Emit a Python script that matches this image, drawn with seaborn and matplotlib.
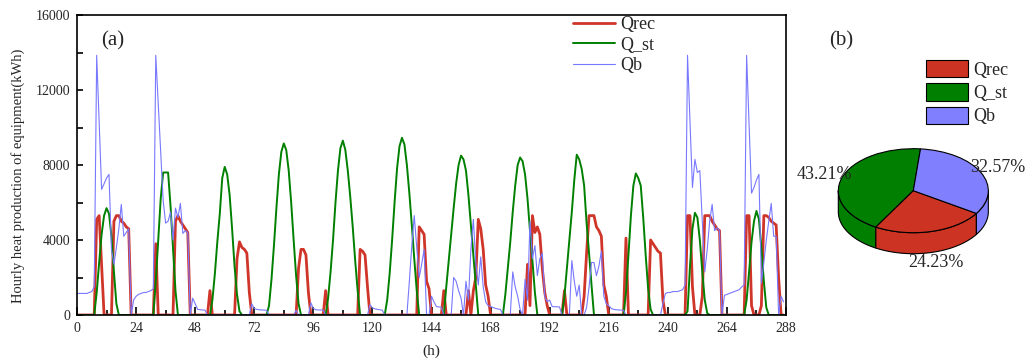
import numpy as np
import pandas as pd
import matplotlib
matplotlib.use("Agg")
import matplotlib.pyplot as plt
from matplotlib.patches import Polygon
from matplotlib.ticker import MultipleLocator
import seaborn as sns

# Hourly heat output of each unit over 12 days (kWh), one list of 24 hours per day
qrec_by_day = [
    [0, 0, 0, 0, 0, 0, 0, 0, 5100, 5300, 2600, 0, 0, 0, 0, 5000, 5300, 5300, 5000, 4900, 4700, 4600, 0, 0],
    [0, 0, 0, 0, 0, 0, 0, 0, 3800, 0, 0, 0, 0, 0, 0, 0, 5000, 5300, 5000, 4800, 4600, 4400, 0, 0],
    [0, 0, 0, 0, 0, 0, 1300, 0, 0, 0, 0, 0, 0, 0, 0, 0, 0, 3000, 3900, 3600, 3500, 3300, 1200, 0],
    [0, 0, 0, 0, 0, 0, 0, 0, 0, 0, 0, 0, 0, 0, 0, 0, 0, 0, 2500, 3500, 3500, 3200, 1200, 0],
    [0, 0, 0, 0, 0, 1300, 0, 0, 0, 0, 0, 0, 0, 0, 0, 0, 0, 0, 0, 3500, 3400, 3200, 1500, 0],
    [0, 0, 0, 0, 0, 0, 0, 0, 0, 0, 0, 0, 0, 0, 0, 0, 0, 0, 0, 4700, 4500, 4300, 1800, 1400],
    [0, 0, 0, 0, 0, 1300, 0, 0, 0, 0, 0, 0, 0, 0, 0, 1300, 0, 1300, 2000, 5100, 4600, 3500, 1600, 1000],
    [0, 0, 0, 0, 0, 0, 0, 0, 0, 0, 0, 0, 0, 0, 0, 2700, 500, 5300, 4400, 4700, 4300, 2500, 1200, 500],
    [0, 0, 0, 0, 0, 0, 1300, 0, 0, 0, 0, 0, 0, 0, 1000, 3300, 5300, 5300, 5300, 4700, 4500, 4200, 1600, 1000],
    [0, 0, 0, 0, 0, 0, 0, 4100, 0, 0, 0, 0, 0, 0, 0, 0, 0, 4000, 3800, 3600, 3400, 3300, 800, 0],
    [0, 0, 0, 0, 0, 0, 0, 0, 5300, 5300, 1500, 0, 0, 0, 1000, 5300, 5300, 5300, 5000, 4800, 4600, 4500, 0, 0],
    [0, 0, 0, 0, 0, 0, 0, 0, 5300, 5300, 500, 0, 0, 0, 500, 5300, 5300, 5200, 5000, 4900, 4800, 2000, 0, 0],
]

qst_by_day = [
    [0, 0, 0, 0, 0, 0, 0, 0, 1200, 2800, 4300, 5300, 5700, 5400, 4200, 2300, 600, 0, 0, 0, 0, 0, 0, 0],
    [0, 0, 0, 0, 0, 0, 0, 0, 1800, 4000, 6200, 7600, 7600, 7600, 5800, 3500, 1300, 0, 0, 0, 0, 0, 0, 0],
    [0, 0, 0, 0, 0, 0, 0, 800, 2200, 3900, 5400, 7300, 7900, 7500, 6400, 4600, 2600, 1100, 200, 0, 0, 0, 0, 0],
    [0, 0, 0, 0, 0, 0, 500, 1900, 3700, 5700, 7500, 8700, 9150, 8800, 7700, 6000, 4000, 2100, 600, 0, 0, 0, 0, 0],
    [0, 0, 0, 0, 0, 0, 900, 2300, 4000, 6000, 7700, 8900, 9300, 8800, 7700, 6300, 4700, 2900, 1300, 0, 0, 0, 0, 0],
    [0, 0, 0, 0, 0, 0, 800, 2200, 4000, 6000, 7800, 9000, 9450, 9100, 8000, 6500, 4800, 3000, 1300, 0, 0, 0, 0, 0],
    [0, 0, 0, 0, 0, 0, 1500, 2900, 4300, 5700, 7000, 8000, 8500, 8300, 7700, 6400, 4800, 3200, 1600, 0, 0, 0, 0, 0],
    [0, 0, 0, 0, 0, 0, 1100, 2500, 3900, 5500, 6900, 8000, 8400, 8200, 7500, 6200, 4500, 2900, 1200, 0, 0, 0, 0, 0],
    [0, 0, 0, 0, 0, 0, 1000, 2500, 4000, 5500, 7200, 8550, 8300, 7800, 6900, 4900, 3300, 1600, 0, 0, 0, 0, 0, 0],
    [0, 0, 0, 0, 0, 0, 0, 1200, 3200, 5300, 6900, 7550, 7300, 6900, 5200, 3200, 1400, 300, 0, 0, 0, 0, 0, 0],
    [0, 0, 0, 0, 0, 0, 0, 0, 200, 2600, 4600, 5450, 5200, 4000, 2300, 800, 100, 0, 0, 0, 0, 0, 0, 0],
    [0, 0, 0, 0, 0, 0, 0, 0, 800, 2300, 3900, 5000, 5550, 5100, 3600, 1800, 400, 0, 0, 0, 0, 0, 0, 0],
]

qb_by_day = [
    [1150, 1150, 1150, 1150, 1150, 1200, 1250, 1500, 13850, 10300, 6700, 7000, 7300, 7500, 3500, 2700, 3600, 4600, 5900, 4200, 4400, 4600, 0, 800],
    [1000, 1100, 1150, 1200, 1200, 1250, 1300, 1400, 13850, 11300, 8700, 6100, 4900, 5000, 5500, 4000, 5700, 5200, 5950, 4350, 4500, 4400, 0, 900],
    [600, 300, 280, 270, 260, 0, 0, 0, 0, 0, 0, 0, 0, 0, 0, 0, 0, 0, 0, 0, 0, 0, 0, 600],
    [350, 300, 280, 270, 260, 250, 0, 0, 0, 0, 0, 0, 0, 0, 0, 0, 0, 250, 0, 0, 0, 0, 0, 650],
    [350, 280, 270, 270, 260, 0, 0, 0, 0, 0, 0, 0, 0, 0, 0, 0, 0, 0, 0, 0, 0, 0, 0, 550],
    [380, 330, 300, 280, 260, 0, 0, 0, 0, 0, 0, 0, 0, 0, 0, 1800, 3700, 5300, 3600, 2000, 2700, 3500, 0, 0],
    [1000, 700, 450, 430, 420, 0, 0, 0, 0, 2000, 1800, 1300, 900, 0, 1800, 800, 3500, 5100, 2800, 1600, 3100, 1500, 700, 500],
    [450, 400, 350, 320, 300, 0, 0, 0, 0, 2300, 1500, 1000, 300, 0, 1900, 800, 5000, 3000, 3700, 2100, 3000, 3300, 1000, 700],
    [800, 450, 440, 440, 430, 0, 0, 0, 0, 2900, 1800, 1000, 1600, 0, 0, 400, 1500, 2800, 2800, 2100, 2600, 3400, 1000, 600],
    [500, 350, 300, 280, 270, 260, 250, 0, 0, 0, 0, 0, 0, 0, 0, 0, 0, 0, 0, 0, 0, 0, 600, 1150],
    [1200, 1200, 1250, 1250, 1250, 1300, 1350, 1600, 13850, 10300, 6800, 8300, 7600, 7700, 5000, 2300, 3500, 5000, 5900, 4500, 4650, 4500, 0, 1050],
    [1100, 1150, 1200, 1250, 1300, 1350, 1500, 1600, 13850, 10200, 6500, 6800, 7200, 7500, 1700, 2800, 4000, 5000, 5950, 4200, 4200, 0, 1000, 700],
]

# Share of total heat supplied by each unit (%), in counter-clockwise pie order
pie_names = ["Q_st", "Qrec", "Qb"]
pie_shares = [43.21, 24.23, 32.57]

color_rec = "#D0352A"
color_st = "#008000"
color_b = "#7878FF"
pie_colors = {"Q_st": "#007F00", "Qrec": "#CC3322", "Qb": "#8080FF"}

sns.set_style("ticks")
plt.rcParams["font.family"] = ["Liberation Serif", "DejaVu Serif"]
plt.rcParams["axes.edgecolor"] = "black"

W, H = 1028, 364
fig = plt.figure(figsize=(W / 100, H / 100), dpi=100)

# ---- (a) hourly time series ----
ax = fig.add_axes([77 / W, 1 - 315 / H, (786 - 77) / W, 300 / H])

hours = np.arange(24 * len(qrec_by_day))
df = pd.DataFrame({
    "h": hours,
    "Qrec": np.concatenate(qrec_by_day),
    "Q_st": np.concatenate(qst_by_day),
    "Qb": np.concatenate(qb_by_day),
})

sns.lineplot(data=df, x="h", y="Qrec", ax=ax, color=color_rec, linewidth=2.0, label="Qrec")
sns.lineplot(data=df, x="h", y="Q_st", ax=ax, color=color_st, linewidth=1.4, label="Q_st")
sns.lineplot(data=df, x="h", y="Qb", ax=ax, color=color_b, linewidth=0.8, label="Qb")

ax.set_xlim(0, 288)
ax.set_ylim(0, 16000)
ax.xaxis.set_major_locator(MultipleLocator(24))
ax.xaxis.set_minor_locator(MultipleLocator(12))
ax.yaxis.set_major_locator(MultipleLocator(4000))
ax.yaxis.set_minor_locator(MultipleLocator(2000))
ax.tick_params(which="both", direction="in", top=False, right=False,
               labelsize=10, width=1.2, color="black", pad=5)
ax.tick_params(axis="x", which="major", length=6)
ax.tick_params(axis="x", which="minor", length=3.5)
ax.tick_params(axis="y", which="both", length=4)
for s in ax.spines.values():
    s.set_linewidth(1.2)
    s.set_color("black")

ax.set_xlabel("(h)", fontsize=11)
ax.xaxis.set_label_coords(0.5, -0.10)
ax.set_ylabel("Hourly heat production of equipment(kWh)", fontsize=10.5)
ax.yaxis.set_label_coords(-0.073, 0.463)

ax.legend(loc="upper left", bbox_to_anchor=(573 / W, 1 - 16 / H),
          bbox_transform=fig.transFigure, frameon=False, fontsize=13,
          handlelength=2.35, handletextpad=0.28, labelspacing=0.2,
          borderpad=0, borderaxespad=0)

fig.text(113 / W, 1 - 41 / H, "(a)", fontsize=15, ha="center", va="center")

# ---- (b) share pie drawn with a raised rim ----
pax = fig.add_axes([790 / W, 0, (W - 790) / W, 1])
wedges, _ = pax.pie(pie_shares, colors=[pie_colors[n] for n in pie_names],
                    startangle=84.5, counterclock=True,
                    wedgeprops=dict(edgecolor="black", linewidth=0.8, zorder=3))
pax.set_aspect("auto")
pax.set_xlim(-1.644, 1.529)
pax.set_ylim(-4.126, 4.540)
pax.axis("off")

depth = 0.5
for w in wedges:
    t1, t2 = w.theta1, w.theta2
    for k in (-360, 0, 360):
        a, b = max(t1, 180 + k), min(t2, 360 + k)
        if b > a:
            t = np.radians(np.linspace(a, b, 80))
            xs, ys = np.cos(t), np.sin(t)
            pts = np.column_stack([np.concatenate([xs, xs[::-1]]),
                                   np.concatenate([ys, ys[::-1] - depth])])
            pax.add_patch(Polygon(pts, closed=True, facecolor=w.get_facecolor(),
                                  edgecolor="black", linewidth=0.8, zorder=1))

for w, v in zip(wedges, pie_shares):
    mid = np.radians((w.theta1 + w.theta2) / 2)
    x, y = 1.25 * np.cos(mid), 1.25 * np.sin(mid)
    if y < 0:
        y -= depth
    pax.text(x, y, f"{v:.2f}%", ha="center", va="center", fontsize=13, zorder=5)

order = ["Qrec", "Q_st", "Qb"]
pax.legend([wedges[pie_names.index(n)] for n in order], order,
           loc="upper left", bbox_to_anchor=(926 / W, 1 - 60 / H),
           bbox_transform=fig.transFigure, frameon=False, fontsize=13,
           handlelength=2.3, handleheight=1.1, handletextpad=0.3,
           labelspacing=0.25, borderpad=0, borderaxespad=0)

fig.text(841 / W, 1 - 41 / H, "(b)", fontsize=15, ha="center", va="center")

fig.savefig("out.png", dpi=100)
